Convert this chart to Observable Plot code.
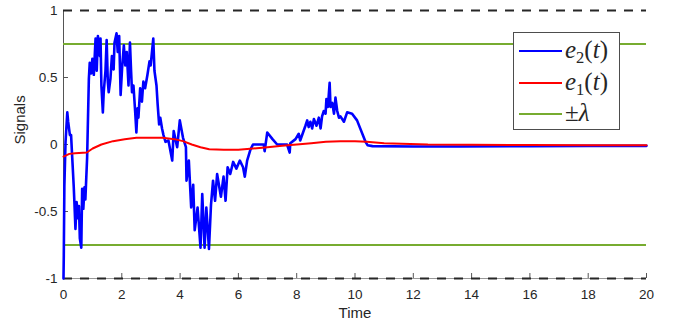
<!DOCTYPE html>
<html>
<head>
<meta charset="utf-8">
<script src="https://cdn.jsdelivr.net/npm/d3@7"></script>
<script src="https://cdn.jsdelivr.net/npm/@observablehq/plot@0.6"></script>
<style>
  body { margin: 0; background: #fff; }
  #chart { position: relative; width: 676px; height: 329px; }
  .legend {
    position: absolute; left: 513px; top: 32px; width: 105px; height: 96px;
    border: 1px solid #4d4d4d; background: #fff;
    font-family: "Liberation Serif", "DejaVu Serif", serif; font-size: 25px; color: #262626;
  }
  .legend .row { position: absolute; left: 0; height: 30px; width: 105px; }
  .legend .swatch { position: absolute; left: 5px; width: 43px; height: 2px; top: 14px; }
  .legend .lab { position: absolute; left: 51px; top: -1px; line-height: 30px; white-space: nowrap; }
  .legend sub { font-size: 0.66em; font-style: normal; vertical-align: -0.3em; line-height: 0; }
</style>
</head>
<body>
<div id="chart"></div>
<script>
// Tracking error e2(t): sampled time stamps and values
const e2Time = [0, 0.01, 0.03, 0.07, 0.13, 0.16, 0.22, 0.26, 0.3, 0.35, 0.37, 0.41, 0.45, 0.5, 0.53, 0.56, 0.61, 0.64, 0.68, 0.72, 0.75, 0.81,
  0.87, 0.9, 0.95, 0.99, 1.04, 1.1, 1.14, 1.18, 1.25, 1.27, 1.3, 1.35, 1.38, 1.44, 1.48, 1.52, 1.55, 1.61, 1.66, 1.72, 1.75, 1.82, 1.86, 1.91,
  1.96, 2.01, 2.07, 2.12, 2.17, 2.23, 2.28, 2.32, 2.35, 2.4, 2.46, 2.5, 2.54, 2.57, 2.63, 2.69, 2.74, 2.8, 2.88, 2.95, 2.99, 3.08, 3.12,
  3.19, 3.23, 3.28, 3.32, 3.38, 3.43, 3.5, 3.6, 3.73, 3.78, 3.9, 3.99, 4.1, 4.2, 4.22, 4.3, 4.38, 4.45, 4.5, 4.6, 4.7, 4.76, 4.84, 4.9,
  4.99, 5.06, 5.13, 5.2, 5.27, 5.4, 5.49, 5.56, 5.63, 5.72, 5.82, 5.93, 6.05, 6.16, 6.22, 6.3, 6.41, 6.5, 6.65, 6.87, 6.9, 6.99, 7.17,
  7.33, 7.5, 7.67, 7.76, 7.78, 7.96, 8.07, 8.12, 8.3, 8.36, 8.41, 8.47, 8.53, 8.59, 8.68, 8.76, 8.82, 8.87, 8.93, 8.99, 9.02, 9.07, 9.13,
  9.16, 9.22, 9.28, 9.33, 9.39, 9.45, 9.5, 9.62, 9.73, 9.9, 10.07, 10.36, 10.43, 10.6, 12, 13.6, 16, 18, 20];
const e2Value = [-1, -0.83, -0.31, 0.02, 0.24, 0.17, 0.07, 0.07, -0.1, -0.31, -0.41, -0.63, -0.43, -0.55, -0.46, -0.7, -0.77, -0.33, -0.48, -0.32, -0.41, -0.1,
  0.49, 0.61, 0.53, 0.64, 0.52, 0.79, 0.55, 0.81, 0.66, 0.79, 0.44, 0.24, 0.39, 0.55, 0.78, 0.47, 0.39, 0.49, 0.66, 0.56, 0.76, 0.83, 0.69, 0.81,
  0.37, 0.57, 0.74, 0.59, 0.69, 0.44, 0.76, 0.54, 0.39, 0.44, 0.24, 0.09, 0.27, 0.2, 0.42, 0.32, 0.47, 0.42, 0.52, 0.62, 0.59, 0.79, 0.55,
  0.44, 0.3, 0.15, 0.2, 0.12, 0.07, 0.02, 0.03, -0.12, 0.1, -0.02, 0.18, 0.05, -0.02, -0.27, -0.12, -0.47, -0.3, -0.64, -0.47, -0.77, -0.37, -0.77, -0.47,
  -0.78, -0.45, -0.27, -0.42, -0.22, -0.39, -0.24, -0.42, -0.17, -0.22, -0.13, -0.18, -0.12, -0.17, -0.24, -0.12, -0.04, 0, 0, 0, -0.05, 0.09, 0.04,
  0, 0, 0, -0.06, 0.01, 0.04, 0.08, 0.03, 0.14, 0.18, 0.13, 0.17, 0.12, 0.19, 0.14, 0.2, 0.12, 0.21, 0.25, 0.23, 0.34, 0.28, 0.46,
  0.28, 0.31, 0.23, 0.35, 0.25, 0.2, 0.21, 0.17, 0.24, 0.23, 0.18, 0.02, -0.005, -0.012, -0.015, -0.015, -0.012, -0.01, -0.01];

// Estimation error e1(t)
const e1Time = [0, 0.2, 0.4, 0.8, 1.0, 1.3, 1.7, 2.1, 2.5, 3.0, 3.4, 3.8, 4.1, 4.4, 4.7, 5.0, 5.5, 6.0, 6.5, 7.0, 7.5, 8.0, 8.5, 9.0, 9.5,
  10.0, 10.4, 11, 12.5, 14, 16, 18, 20];
const e1Value = [-0.09, -0.07, -0.065, -0.06, -0.03, 0.0, 0.025, 0.04, 0.05, 0.05, 0.05, 0.04, 0.025, 0.0, -0.02, -0.035, -0.04, -0.04, -0.03,
  -0.02, -0.01, 0.0, 0.01, 0.02, 0.025, 0.025, 0.02, 0.01, 0.0, -0.002, -0.004, -0.005, -0.005];

// Threshold ±λ and the outer bounds
const lambdaLevels = [-0.75, 0.75];
const boundLevels = [-1, 1];

// Axis ticks
const xTicks = [0, 2, 4, 6, 8, 10, 12, 14, 16, 18, 20];
const yTicks = [-1, -0.5, 0, 0.5, 1];
const yTickLabels = ["-1", "-0.5", "0", "0.5", "1"];

const e2 = e2Time.map((t, i) => ({t, v: e2Value[i]}));
const e1 = e1Time.map((t, i) => ({t, v: e1Value[i]}));

const chart = Plot.plot({
  width: 676,
  height: 329,
  marginLeft: 63,
  marginRight: 30,
  marginTop: 10,
  marginBottom: 51,
  style: {fontFamily: "'Liberation Sans', Arial, sans-serif", fontSize: "13.5px", color: "#262626", background: "#fff"},
  x: {domain: [0, 20]},
  y: {domain: [-1, 1]},
  marks: [
    Plot.ruleX([0], {stroke: "#555", strokeWidth: 1}),
    Plot.ruleY([-1], {stroke: "#999", strokeWidth: 1}),
    Plot.axisX({ticks: xTicks, tickSize: -5, stroke: "#555", tickFormat: () => "", label: null}),
    Plot.axisX({ticks: xTicks, tickSize: 0, tickPadding: 11, tickFormat: d => String(d), label: null}),
    Plot.axisY({ticks: yTicks, tickSize: -5, stroke: "#555", tickFormat: () => "", label: null}),
    Plot.axisY({ticks: yTicks, tickSize: 0, tickPadding: 6, tickFormat: d => yTickLabels[yTicks.indexOf(d)], label: null}),
    Plot.ruleY(boundLevels, {stroke: "#262626", strokeWidth: 2, strokeDasharray: "9,8"}),
    Plot.ruleY(lambdaLevels, {stroke: "#77AC30", strokeWidth: 2}),
    Plot.line(e2, {x: "t", y: "v", stroke: "#0000FF", strokeWidth: 2.6}),
    Plot.line(e1, {x: "t", y: "v", stroke: "#FF0000", strokeWidth: 2}),
    Plot.text(["Time"], {frameAnchor: "bottom", dy: 39, fontSize: 15, fill: "#262626"}),
    Plot.text(["Signals"], {frameAnchor: "left", dx: -43, rotate: -90, fontSize: 15, fill: "#262626"})
  ]
});

const host = document.getElementById("chart");
host.appendChild(chart);

// Legend box in the upper right of the axes
const legendItems = [
  {html: "<i>e</i><sub>2</sub>(<i>t</i>)", color: "#0000FF"},
  {html: "<i>e</i><sub>1</sub>(<i>t</i>)", color: "#FF0000"},
  {html: "±<i>λ</i>", color: "#77AC30"}
];
const legend = document.createElement("div");
legend.className = "legend";
legendItems.forEach((item, i) => {
  const row = document.createElement("div");
  row.className = "row";
  row.style.top = (3 + i * 31.5) + "px";
  row.innerHTML = `<div class="swatch" style="background:${item.color}"></div><div class="lab">${item.html}</div>`;
  legend.appendChild(row);
});
host.appendChild(legend);
</script>
</body>
</html>
